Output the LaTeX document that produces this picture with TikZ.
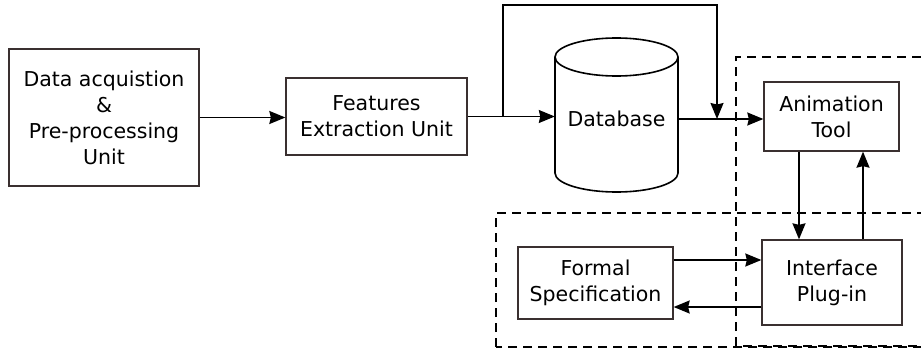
\documentclass[tikz,border=0pt]{standalone}
\usepackage{fontspec}
\setmainfont{DejaVu Sans}
\usetikzlibrary{arrows.meta}
\definecolor{boxline}{RGB}{58,48,48}
\tikzset{
  unit/.style={draw=boxline, line width=1.3pt, inner sep=0pt, align=center,
    font=\fontsize{20.5}{26}\selectfont},
  flow/.style={line width=1.6pt, -{Stealth[length=16pt,width=13pt,inset=1.5pt]}},
  group/.style={line width=1.3pt, dash pattern=on 9pt off 6pt}
}
\begin{document}
\begin{tikzpicture}[x=1pt, y=1pt]
      \useasboundingbox (0,0) rectangle (921,349);
      \clip (0,0) rectangle (921,349);

      % Dashed groups
      \draw[group] (736,3) rectangle (935,292);
      \draw[group] (496,2) rectangle (935,136);

      % Data acquisition
      \node[unit, minimum width=190pt, minimum height=137pt] (data) at (104,231.5)
        {Data acquistion\\\&\\Pre-processing\\Unit};

      % Features extraction
      \node[unit, minimum width=181pt, minimum height=77pt] (features) at (376.5,232.5)
        {Features\\Extraction Unit};

      % Database
      \node[inner sep=0pt, minimum width=123pt, minimum height=116pt,
        font=\fontsize{20.5}{26}\selectfont] (db) at (616.5,230) {Database};
      \draw[line width=1.6pt] (555,292) -- (555,176)
        arc[start angle=180, end angle=360, x radius=61.5, y radius=19] -- (678,292);
      \draw[line width=1.6pt] (616.5,292) ellipse[x radius=61.5, y radius=19];

      % Animation tool
      \node[unit, minimum width=135pt, minimum height=69pt] (anim) at (831.5,232.5)
        {Animation\\Tool};

      % Interface plug-in
      \node[unit, minimum width=140pt, minimum height=85pt] (plugin) at (832,66.5)
        {Interface\\Plug-in};

      % Formal specification
      \node[unit, minimum width=155pt, minimum height=72pt] (formal) at (595.5,66)
        {Formal\\Specification};

      % Connectors
      \coordinate (split) at (503,232.5);
      \coordinate (join) at (717,230);
      \draw[flow] (data.east) -- (data.east -| features.west);
      \draw[flow] (features.east) -- (features.east -| db.west);
      \draw[flow] (db.east) -- (db.east -| anim.west);
      \draw[flow] (split) -- ++(0,111.5) -| (join);
      \draw[flow] ([xshift=-32.5pt]anim.south) -- ([xshift=-33pt]plugin.north);
      \draw[flow] ([xshift=31pt]plugin.north) -- ([xshift=31.5pt]anim.south);
      \draw[flow] ([yshift=23pt]formal.east) -- ([yshift=22.5pt]plugin.west);
      \draw[flow] ([yshift=-24.5pt]plugin.west) -- ([yshift=-24pt]formal.east);
\end{tikzpicture}
\end{document}
